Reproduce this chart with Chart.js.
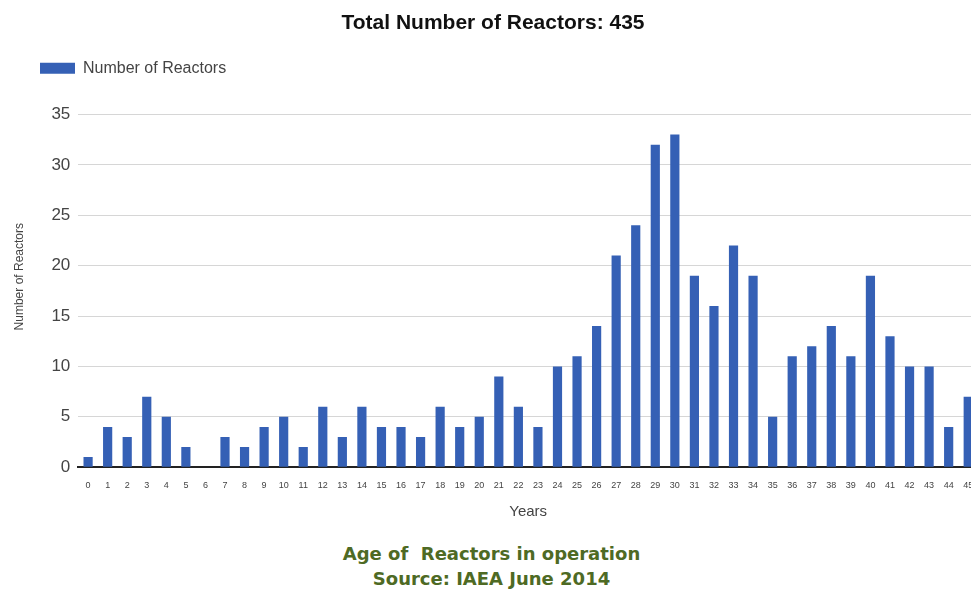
<!DOCTYPE html>
<html>
<head>
<meta charset="utf-8">
<script src="https://cdn.jsdelivr.net/npm/chart.js@4"></script>
<style>
  html, body { margin: 0; padding: 0; background: #fff; overflow: hidden; }
  #wrap { position: relative; width: 1000px; height: 525px; }
  .caption {
    width: 959px; padding-left: 12px; margin-top: 16px; text-align: center; color: #4e6a24;
    font-family: 'DejaVu Sans', Verdana, sans-serif; font-weight: bold;
    font-size: 18px; line-height: 25px;
  }
</style>
</head>
<body>
<div id="wrap"><canvas id="ageChart"></canvas></div>
<div class="caption">Age of&nbsp; Reactors in operation<br>Source: IAEA June 2014</div>
<script>
// reactor age distribution (IAEA, June 2014)
const years = ['0','1','2','3','4','5','6','7','8','9','10','11','12','13','14','15','16','17','18','19','20','21','22','23','24','25','26','27','28','29','30','31','32','33','34','35','36','37','38','39','40','41','42','43','44','45'];
const reactors = [1, 4, 3, 7, 5, 2, 0, 3, 2, 4, 5, 2, 6, 3, 6, 4, 4, 3, 6, 4, 5, 9, 6, 4, 10, 11, 14, 21, 24, 32, 33, 19, 16, 22, 19, 5, 11, 12, 14, 11, 19, 13, 10, 10, 4, 7];
const yTicks = [0, 5, 10, 15, 20, 25, 30, 35];

const sans = "'Liberation Sans', Arial, sans-serif";

// nudge the legend to the right, like the original
const legendOffset = {
  id: 'legendOffset',
  afterLayout: chart => { chart.legend.left += 24; },
};

const ctx = document.getElementById('ageChart').getContext('2d');
new Chart(ctx, {
  type: 'bar',
  data: {
    labels: years,
    datasets: [{
      label: 'Number of Reactors',
      data: reactors,
      backgroundColor: '#3560b5',
      barPercentage: 0.47,
      categoryPercentage: 1.0,
    }],
  },
  options: {
    responsive: true,
    maintainAspectRatio: false,
    animation: false,
    layout: { padding: { left: 8, right: 22, top: 0, bottom: 0 } },
    plugins: {
      title: {
        display: true,
        text: 'Total Number of Reactors: 435',
        color: '#111',
        font: { family: sans, size: 21, weight: 'bold' },
        padding: { top: 11, bottom: 16 },
      },
      legend: {
        position: 'top',
        align: 'start',
        labels: {
          color: '#444',
          font: { family: sans, size: 16 },
          boxWidth: 35,
          boxHeight: 11,
          padding: 8,
        },
      },
      tooltip: { enabled: false },
    },
    scales: {
      x: {
        grid: { display: false },
        border: { display: true, color: '#222', width: 2 },
        ticks: { autoSkip: false, maxRotation: 0, color: '#444', font: { family: sans, size: 9 }, padding: 5 },
        title: { display: true, text: 'Years', color: '#444', font: { family: sans, size: 15 }, padding: { top: 7 } },
      },
      y: {
        min: 0,
        max: 37.8,
        afterBuildTicks: axis => { axis.ticks = yTicks.map(v => ({ value: v })); },
        grid: { color: '#d6d6d6', drawTicks: false },
        border: { display: false },
        ticks: { color: '#444', font: { family: sans, size: 17 }, padding: 8 },
        title: { display: true, text: 'Number of Reactors', color: '#444', font: { family: sans, size: 12 }, padding: { bottom: 17 } },
      },
    },
  },
  plugins: [legendOffset],
});
</script>
</body>
</html>
